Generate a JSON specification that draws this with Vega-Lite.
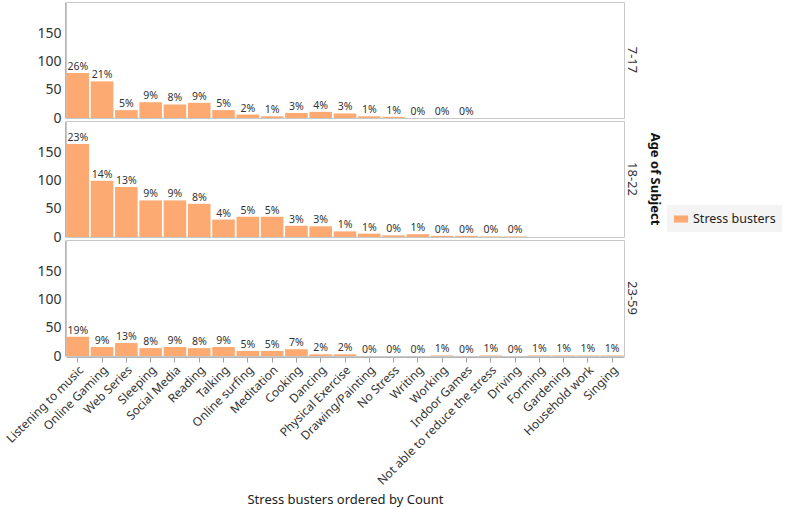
{
  "$schema": "https://vega.github.io/schema/vega-lite/v6.json",
  "background": "white",
  "padding": {"left": 4, "top": 1, "right": 2, "bottom": 4},
  "config": {
    "font": "Noto Sans",
    "view": {"stroke": "#c8c8c8", "strokeWidth": 1},
    "axis": {"labelColor": "#333333", "domainColor": "#b4b4b4", "tickColor": "#a0a0a0", "grid": false}
  },
  "data": {
    "values": [
      {"age": "7-17", "activity": "Listening to music", "count": 80, "pct": "26%"},
      {"age": "7-17", "activity": "Online Gaming", "count": 65, "pct": "21%"},
      {"age": "7-17", "activity": "Web Series", "count": 14, "pct": "5%"},
      {"age": "7-17", "activity": "Sleeping", "count": 28, "pct": "9%"},
      {"age": "7-17", "activity": "Social Media", "count": 24, "pct": "8%"},
      {"age": "7-17", "activity": "Reading", "count": 27, "pct": "9%"},
      {"age": "7-17", "activity": "Talking", "count": 14, "pct": "5%"},
      {"age": "7-17", "activity": "Online surfing", "count": 6, "pct": "2%"},
      {"age": "7-17", "activity": "Meditation", "count": 3, "pct": "1%"},
      {"age": "7-17", "activity": "Cooking", "count": 9, "pct": "3%"},
      {"age": "7-17", "activity": "Dancing", "count": 11, "pct": "4%"},
      {"age": "7-17", "activity": "Physical Exercise", "count": 8, "pct": "3%"},
      {"age": "7-17", "activity": "Drawing/Painting", "count": 3, "pct": "1%"},
      {"age": "7-17", "activity": "No Stress", "count": 2, "pct": "1%"},
      {"age": "7-17", "activity": "Writing", "count": 0, "pct": "0%"},
      {"age": "7-17", "activity": "Working", "count": 0, "pct": "0%"},
      {"age": "7-17", "activity": "Indoor Games", "count": 0, "pct": "0%"},
      {"age": "18-22", "activity": "Listening to music", "count": 165, "pct": "23%"},
      {"age": "18-22", "activity": "Online Gaming", "count": 100, "pct": "14%"},
      {"age": "18-22", "activity": "Web Series", "count": 89, "pct": "13%"},
      {"age": "18-22", "activity": "Sleeping", "count": 65, "pct": "9%"},
      {"age": "18-22", "activity": "Social Media", "count": 65, "pct": "9%"},
      {"age": "18-22", "activity": "Reading", "count": 59, "pct": "8%"},
      {"age": "18-22", "activity": "Talking", "count": 31, "pct": "4%"},
      {"age": "18-22", "activity": "Online surfing", "count": 36, "pct": "5%"},
      {"age": "18-22", "activity": "Meditation", "count": 36, "pct": "5%"},
      {"age": "18-22", "activity": "Cooking", "count": 20, "pct": "3%"},
      {"age": "18-22", "activity": "Dancing", "count": 19, "pct": "3%"},
      {"age": "18-22", "activity": "Physical Exercise", "count": 10, "pct": "1%"},
      {"age": "18-22", "activity": "Drawing/Painting", "count": 6, "pct": "1%"},
      {"age": "18-22", "activity": "No Stress", "count": 3, "pct": "0%"},
      {"age": "18-22", "activity": "Writing", "count": 5, "pct": "1%"},
      {"age": "18-22", "activity": "Working", "count": 2, "pct": "0%"},
      {"age": "18-22", "activity": "Indoor Games", "count": 2, "pct": "0%"},
      {"age": "18-22", "activity": "Not able to reduce the stress", "count": 1, "pct": "0%"},
      {"age": "18-22", "activity": "Driving", "count": 1, "pct": "0%"},
      {"age": "23-59", "activity": "Listening to music", "count": 34, "pct": "19%"},
      {"age": "23-59", "activity": "Online Gaming", "count": 16, "pct": "9%"},
      {"age": "23-59", "activity": "Web Series", "count": 23, "pct": "13%"},
      {"age": "23-59", "activity": "Sleeping", "count": 14, "pct": "8%"},
      {"age": "23-59", "activity": "Social Media", "count": 16, "pct": "9%"},
      {"age": "23-59", "activity": "Reading", "count": 14, "pct": "8%"},
      {"age": "23-59", "activity": "Talking", "count": 16, "pct": "9%"},
      {"age": "23-59", "activity": "Online surfing", "count": 9, "pct": "5%"},
      {"age": "23-59", "activity": "Meditation", "count": 9, "pct": "5%"},
      {"age": "23-59", "activity": "Cooking", "count": 12, "pct": "7%"},
      {"age": "23-59", "activity": "Dancing", "count": 3, "pct": "2%"},
      {"age": "23-59", "activity": "Physical Exercise", "count": 3, "pct": "2%"},
      {"age": "23-59", "activity": "Drawing/Painting", "count": 0, "pct": "0%"},
      {"age": "23-59", "activity": "No Stress", "count": 0, "pct": "0%"},
      {"age": "23-59", "activity": "Writing", "count": 0, "pct": "0%"},
      {"age": "23-59", "activity": "Working", "count": 1, "pct": "1%"},
      {"age": "23-59", "activity": "Indoor Games", "count": 0, "pct": "0%"},
      {"age": "23-59", "activity": "Not able to reduce the stress", "count": 1, "pct": "1%"},
      {"age": "23-59", "activity": "Driving", "count": 0, "pct": "0%"},
      {"age": "23-59", "activity": "Forming", "count": 1, "pct": "1%"},
      {"age": "23-59", "activity": "Gardening", "count": 1, "pct": "1%"},
      {"age": "23-59", "activity": "Household work", "count": 1, "pct": "1%"},
      {"age": "23-59", "activity": "Singing", "count": 1, "pct": "1%"}
    ]
  },
  "facet": {
    "row": {
      "field": "age",
      "type": "nominal",
      "sort": ["7-17", "18-22", "23-59"],
      "header": {
        "title": "Age of Subject",
        "labelOrient": "right",
        "titleOrient": "right",
        "labelAngle": 90,
        "titleAngle": 90,
        "labelFontSize": 13,
        "labelColor": "#333333",
        "titleFontSize": 13,
        "titleFontWeight": "bold",
        "titleColor": "#111111",
        "labelPadding": 0,
        "titlePadding": 0
      }
    }
  },
  "spacing": 1,
  "resolve": {"scale": {"x": "shared", "y": "shared"}},
  "spec": {
    "width": 558,
    "height": 116,
    "encoding": {
      "x": {
        "field": "activity",
        "type": "nominal",
        "scale": {
          "domain": ["Listening to music", "Online Gaming", "Web Series", "Sleeping", "Social Media", "Reading", "Talking", "Online surfing", "Meditation", "Cooking", "Dancing", "Physical Exercise", "Drawing/Painting", "No Stress", "Writing", "Working", "Indoor Games", "Not able to reduce the stress", "Driving", "Forming", "Gardening", "Household work", "Singing"],
          "paddingInner": 0.07,
          "paddingOuter": 0.02
        },
        "axis": {
          "title": "Stress busters  ordered by Count",
          "titleFontSize": 13,
          "titleFontWeight": "normal",
          "titleColor": "#222222",
          "titlePadding": 7,
          "labelAngle": -45,
          "labelFontSize": 12,
          "labelPadding": 2,
          "tickSize": 5
        }
      },
      "y": {
        "field": "count",
        "type": "quantitative",
        "scale": {"domain": [0, 206], "nice": false},
        "axis": {
          "title": null,
          "values": [0, 50, 100, 150],
          "ticks": false,
          "labelFontSize": 14,
          "labelPadding": 4
        }
      }
    },
    "layer": [
      {
        "mark": {"type": "bar"},
        "encoding": {
          "color": {
            "datum": "Stress busters",
            "type": "nominal",
            "scale": {"range": ["#FDAA72"]},
            "legend": {
              "title": null,
              "orient": "none",
              "legendX": 601,
              "legendY": 203,
              "fillColor": "#f4f4f4",
              "padding": 6,
              "symbolType": "M-1,-0.5L1,-0.5L1,0.5L-1,0.5Z",
              "symbolSize": 200,
              "symbolOpacity": 1,
              "labelFontSize": 12.5,
              "labelColor": "#222222",
              "labelOffset": 4
            }
          }
        }
      },
      {
        "mark": {"type": "text", "baseline": "bottom", "dy": -1, "fontSize": 10.5, "color": "#333333"},
        "encoding": {"text": {"field": "pct", "type": "nominal"}}
      }
    ]
  }
}
